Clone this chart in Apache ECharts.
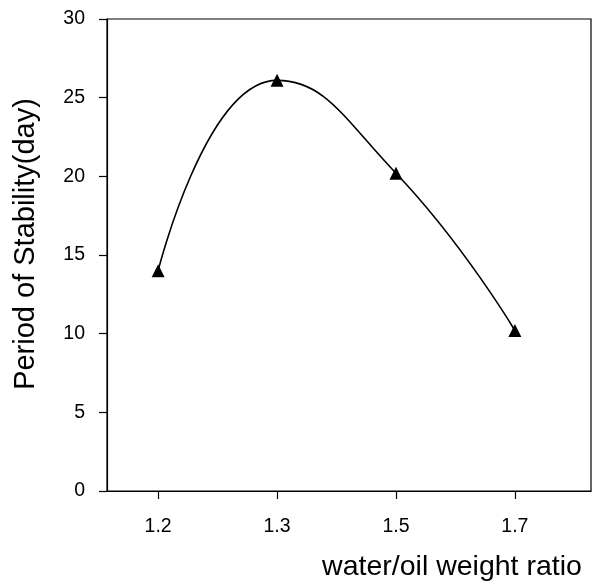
<!DOCTYPE html>
<html>
<head>
<meta charset="utf-8">
<script src="https://cdn.jsdelivr.net/npm/echarts@6/dist/echarts.min.js"></script>
<style>
  html, body { margin: 0; padding: 0; background: #fff; }
  #main { width: 595px; height: 587px; }
</style>
</head>
<body>
<div id="main"></div>
<script>
// water/oil weight ratio (evenly spaced on the axis)
var ratios = ['1.2', '1.3', '1.5', '1.7']
// period of stability (day)
var stability = [14.0, 26.1, 20.2, 10.2]
var yTicks = [0, 5, 10, 15, 20, 25, 30]

var points = ratios.map(function(r, i) { return [i, stability[i]] })
var font = '"Liberation Sans", Arial, sans-serif'

var chart = echarts.init(document.getElementById('main'))
chart.setOption({
  backgroundColor: '#fff',
  animation: false,
  grid: {
    left: 107,
    right: 4,
    top: 19,
    bottom: 93,
    show: true,
    borderColor: '#000',
    borderWidth: 1.2
  },
  xAxis: {
    type: 'value',
    min: -0.43,
    max: 3.64,
    name: 'water/oil weight ratio',
    nameLocation: 'middle',
    nameGap: 62,
    nameTextStyle: {
      fontFamily: font,
      fontSize: 28.5,
      color: '#000',
      padding: [0, 0, 0, 206]
    },
    axisLine: { onZero: false, lineStyle: { color: '#000', width: 1.2 } },
    axisTick: {
      show: true,
      length: 8,
      customValues: [0, 1, 2, 3],
      lineStyle: { color: '#000', width: 1.2 }
    },
    axisLabel: {
      customValues: [0, 1, 2, 3],
      margin: 26,
      fontFamily: font,
      fontSize: 19.5,
      color: '#000',
      formatter: function(v) { return ratios[Math.round(v)] }
    },
    splitLine: { show: false }
  },
  yAxis: {
    type: 'value',
    min: yTicks[0],
    max: yTicks[yTicks.length - 1],
    interval: 5,
    name: 'Period of Stability(day)',
    nameLocation: 'middle',
    nameGap: 67,
    nameTextStyle: {
      fontFamily: font,
      fontSize: 29,
      color: '#000',
      padding: [0, 0, 0, 22]
    },
    axisLine: { show: true, onZero: false, lineStyle: { color: '#000', width: 1.2 } },
    axisTick: { show: true, length: 8, lineStyle: { color: '#000', width: 1.2 } },
    axisLabel: {
      margin: 22,
      fontFamily: font,
      fontSize: 19.5,
      color: '#000'
    },
    splitLine: { show: false }
  },
  series: [{
    type: 'line',
    data: points,
    smooth: 0.5,
    symbol: 'triangle',
    symbolSize: 13,
    itemStyle: { color: '#000' },
    lineStyle: { color: '#000', width: 1.6 }
  }]
})
</script>
</body>
</html>
